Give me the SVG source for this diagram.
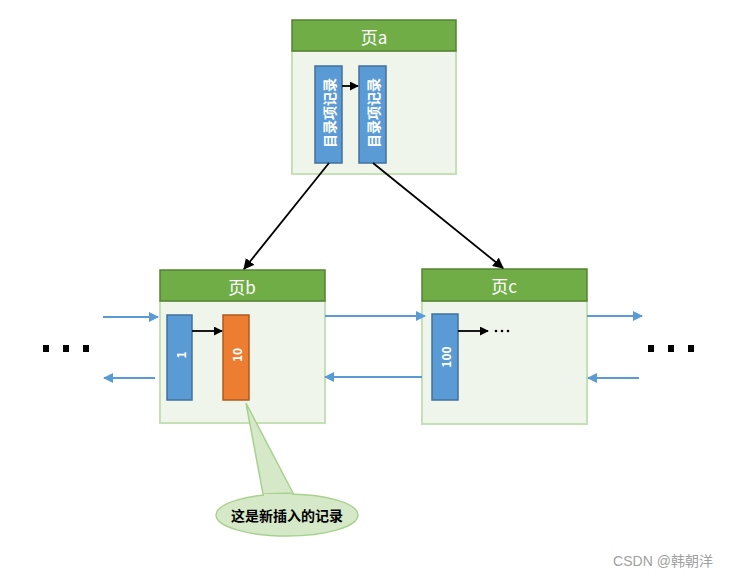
<svg xmlns="http://www.w3.org/2000/svg" width="729" height="577" viewBox="0 0 729 577">
<style>
.body{fill:#F0F5EC;stroke:#C5E0B4;stroke-width:2}
.head{fill:#70AD47;stroke:#548235;stroke-width:1.5}
.ht{font-family:"Noto Sans CJK SC","Liberation Sans",sans-serif;font-size:17px;fill:#fff;text-anchor:middle;dominant-baseline:central}
.rec{fill:#5B9BD5;stroke:#41719C;stroke-width:1.5}
.new{fill:#ED7D31;stroke:#AE5A21;stroke-width:1.5}
.rt{font-family:"Noto Sans CJK SC","Liberation Sans",sans-serif;font-size:14px;font-weight:bold;fill:#fff;text-anchor:middle;dominant-baseline:central}
.num{font-size:12px}
.blk{stroke:#000;stroke-width:1.8;fill:none}
.blu{stroke:#5B9BD5;stroke-width:2;fill:none}
.dot{fill:#000}
</style>
<defs>
<marker id="ab" viewBox="0 0 10 10" refX="9" refY="5" markerWidth="5" markerHeight="5" orient="auto"><path d="M0,0L10,5L0,10z" fill="#000"/></marker>
<marker id="abig" viewBox="0 0 10 10" refX="9" refY="5" markerWidth="6" markerHeight="6" orient="auto"><path d="M0,0L10,5L0,10z" fill="#000"/></marker>
<marker id="au" viewBox="0 0 10 10" refX="9" refY="5" markerWidth="5" markerHeight="5" orient="auto"><path d="M0,0L10,5L0,10z" fill="#5B9BD5"/></marker>
</defs>
<g id="pageA">
<rect class="body" x="292" y="51" width="164" height="123"/>
<rect class="head" x="292" y="20" width="164" height="31"/>
<text class="ht" x="374" y="36">页a</text>
<rect class="rec" x="315" y="66" width="27" height="97"/>
<text class="rt" transform="translate(329,113) rotate(-90)">目录项记录</text>
<rect class="rec" x="359" y="66" width="27" height="97"/>
<text class="rt" transform="translate(373,113) rotate(-90)">目录项记录</text>
</g>
<g id="pageB">
<rect class="body" x="160" y="301" width="165" height="122"/>
<rect class="head" x="160" y="270" width="165" height="31"/>
<text class="ht" x="242" y="286">页b</text>
<rect class="rec" x="167" y="315" width="25" height="85"/>
<text class="rt num" transform="translate(180,355) rotate(-90)">1</text>
<rect class="new" x="223" y="315" width="26" height="85"/>
<text class="rt num" transform="translate(236,355) rotate(-90)">10</text>
</g>
<g id="pageC">
<rect class="body" x="422" y="301" width="165" height="123"/>
<rect class="head" x="422" y="269" width="165" height="32"/>
<text class="ht" x="504" y="285">页c</text>
<rect class="rec" x="432" y="314" width="26" height="86"/>
<text class="rt num" transform="translate(445,357) rotate(-90)">100</text>
<circle class="dot" cx="496" cy="331" r="1.3"/>
<circle class="dot" cx="502" cy="331" r="1.3"/>
<circle class="dot" cx="508" cy="331" r="1.3"/>
</g>
<g id="callout">
<path d="M246,403L263,494L293,493Z" fill="#D5E8C8" stroke="#A9D18E" stroke-width="1.5"/>
<ellipse cx="287" cy="515" rx="71" ry="21" fill="#D5E8C8" stroke="#A9D18E" stroke-width="1.5"/>
<path d="M264,496L292,496" stroke="#D5E8C8" stroke-width="4"/>
<text x="287" y="515" style="font-family:'Noto Sans CJK SC',serif;font-size:14px;font-weight:bold;fill:#000;text-anchor:middle;dominant-baseline:central">这是新插入的记录</text>
</g>
<g id="ellipsisL">
<rect class="dot" x="43" y="345" width="6" height="7"/>
<rect class="dot" x="63" y="345" width="6" height="7"/>
<rect class="dot" x="83" y="345" width="6" height="7"/>
</g>
<g id="ellipsisR">
<rect class="dot" x="648" y="345" width="6" height="7"/>
<rect class="dot" x="668" y="345" width="6" height="7"/>
<rect class="dot" x="688" y="345" width="6" height="7"/>
</g>
<g id="connectors">
<path class="blk" d="M342,86L358,86" marker-end="url(#ab)"/>
<path class="blk" d="M192,331L222,331" marker-end="url(#ab)"/>
<path class="blk" d="M458,331L488,331" marker-end="url(#ab)"/>
<path class="blk" d="M329,163L244,269" marker-end="url(#abig)"/>
<path class="blk" d="M373,163L503,268" marker-end="url(#abig)"/>
<path class="blu" d="M103,317L158,317" marker-end="url(#au)"/>
<path class="blu" d="M155,378L104,378" marker-end="url(#au)"/>
<path class="blu" d="M325,316L425,316" marker-end="url(#au)"/>
<path class="blu" d="M422,377L325,377" marker-end="url(#au)"/>
<path class="blu" d="M587,316L642,316" marker-end="url(#au)"/>
<path class="blu" d="M639,378L588,378" marker-end="url(#au)"/>
</g>
<text x="663" y="561" style="font-family:'Liberation Sans','Noto Sans CJK SC',sans-serif;font-size:14px;fill:#a0a0a0;text-anchor:middle;dominant-baseline:central">CSDN @韩朝洋</text>
</svg>
